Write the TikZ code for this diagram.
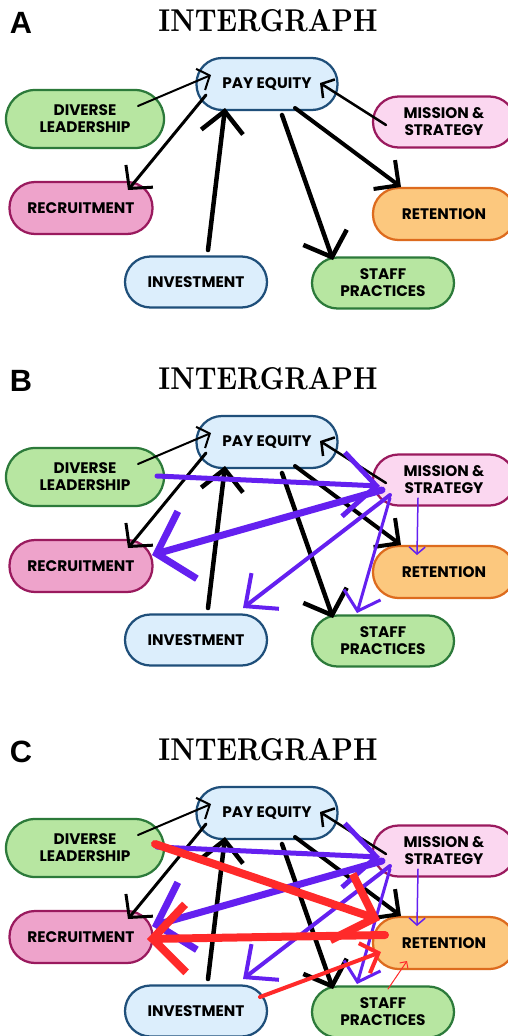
\documentclass[tikz,border=0pt]{standalone}
\usepackage{fontspec}
\usepackage{xcolor}
\usepackage{graphicx}
\usepackage{tikz}
\usetikzlibrary{arrows.meta,calc}

\newfontfamily\boxfont{Poppins}
\newfontfamily\tagfont{Liberation Sans}

\definecolor{skyfill}{HTML}{DCEEFC}
\definecolor{skyline}{HTML}{1F4F7A}
\definecolor{leaffill}{HTML}{B7E6A1}
\definecolor{leafline}{HTML}{2C7A3A}
\definecolor{blushfill}{HTML}{FBD7F0}
\definecolor{blushline}{HTML}{9A1A5E}
\definecolor{rosefill}{HTML}{EEA3CB}
\definecolor{roseline}{HTML}{9A1A5E}
\definecolor{peachfill}{HTML}{FCC87E}
\definecolor{peachline}{HTML}{DD6B1E}
\definecolor{violet}{HTML}{6420F0}
\definecolor{scarlet}{HTML}{FF2A2A}

\newcommand{\graphtitle}{\resizebox{43.8mm}{4.4mm}{\bfseries INTERGRAPH}}

\begin{document}
\begin{tikzpicture}[
  x=0.2mm, y=-0.2mm,
  box/.style={draw, line width=0.45mm, rounded corners=5.1mm, minimum width=28.4mm, minimum height=10.2mm,
    align=center, inner sep=0pt, font=\boxfont\bfseries\fontsize{8.7}{9.6}\selectfont},
  arr/.style n args={3}{line width=#1, line cap=round, -{Straight Barb[length=#2,width=#3]}},
  headline/.style={inner sep=0pt},
  tag/.style={font=\tagfont\bfseries\fontsize{17.5}{20}\selectfont}
]
  \useasboundingbox (0,0) rectangle (507,1036);
  \fill[white] (0,0) rectangle (507,1036);

  % the three panels share the same nodes
  \foreach \p/\dy in {A/0,B/358,C/729}{
    \begin{scope}[shift={(0,\dy)}]
      \node[tag] (tag\p) at (21,23) {\p};
      \node[headline] (title\p) at (268,21) {\graphtitle};
      \node[box, fill=skyfill, draw=skyline, minimum width=28.2mm, minimum height=10.4mm] (pay\p) at (267,84) {PAY EQUITY};
      \node[box, fill=leaffill, draw=leafline, minimum width=31.6mm, minimum height=11.6mm, rounded corners=5.8mm] (div\p) at (85,119) {DIVERSE\\LEADERSHIP};
      \node[box, fill=blushfill, draw=blushline] (mis\p) at (444,122) {MISSION \&\\STRATEGY};
      \node[box, fill=rosefill, draw=roseline, minimum width=28.6mm, minimum height=10.4mm] (rec\p) at (81,208) {RECRUITMENT};
      \node[box, fill=peachfill, draw=peachline, minimum height=10.4mm] (ret\p) at (444,214) {RETENTION};
      \node[box, fill=skyfill, draw=skyline] (inv\p) at (196,282) {INVESTMENT};
      \node[box, fill=leaffill, draw=leafline] (sta\p) at (383,283) {STAFF\\PRACTICES};
    \end{scope}
  }

  % black links, all panels
  \foreach \p in {A,B,C}{
    \draw[arr={0.4mm}{2mm}{4.6mm}] ($(div\p)+(53,-13)$) -- ($(pay\p)+(-56,-9)$);
    \draw[arr={0.6mm}{3.2mm}{7mm}] ($(pay\p)+(-61,11)$) -- ($(rec\p)+(47,-18)$);
    \draw[arr={0.9mm}{4.2mm}{8.4mm}] ($(inv\p)+(12,-32)$) -- ($(pay\p)+(-42,24)$);
    \draw[arr={0.9mm}{4.2mm}{9.2mm}] ($(pay\p)+(15,31)$) -- ($(sta\p)+(-50,-23)$);
    \draw[arr={0.8mm}{3.6mm}{7.2mm}] ($(pay\p)+(28,24)$) -- ($(ret\p)+(-43,-27)$);
    \draw[arr={0.5mm}{1.8mm}{4.4mm}] ($(mis\p)+(-58,3)$) -- ($(pay\p)+(53,-1)$);
  }

  % violet links, panels B and C
  \foreach \p in {B,C}{
    \draw[violet, arr={1mm}{6.6mm}{12.8mm}] ($(div\p)+(72,-1)$) -- ($(mis\p)+(-64,6)$);
    \draw[violet, arr={1.4mm}{6.4mm}{14mm}] ($(mis\p)+(-62,10)$) -- ($(rec\p)+(71,-11)$);
    \draw[violet, arr={0.8mm}{5mm}{9mm}] ($(mis\p)+(-54,15)$) -- ($(inv\p)+(47,-32)$);
    \draw[violet, arr={0.6mm}{3.4mm}{7.6mm}] ($(mis\p)+(-54,18)$) -- ($(sta\p)+(-26,-28)$);
    \draw[violet, arr={0.3mm}{1.4mm}{3.2mm}] ($(mis\p)+(-26,18)$) -- ($(ret\p)+(-27,-17)$);
  }

  % scarlet links, panel C
  \draw[scarlet, arr={1.6mm}{7mm}{14mm}] ($(divC)+(70,-4)$) -- ($(retC)+(-64,-23)$);
  \draw[scarlet, arr={1.6mm}{6.6mm}{13.6mm}] ($(retC)+(-59,-8)$) -- ($(recC)+(66,2)$);
  \draw[scarlet, arr={0.8mm}{3mm}{6.4mm}] ($(invC)+(64,-14)$) -- ($(retC)+(-63,9)$);
  \draw[scarlet, arr={0.2mm}{1mm}{2mm}] ($(staC)+(5,-23)$) -- ($(retC)+(-37,18)$);
\end{tikzpicture}
\end{document}
